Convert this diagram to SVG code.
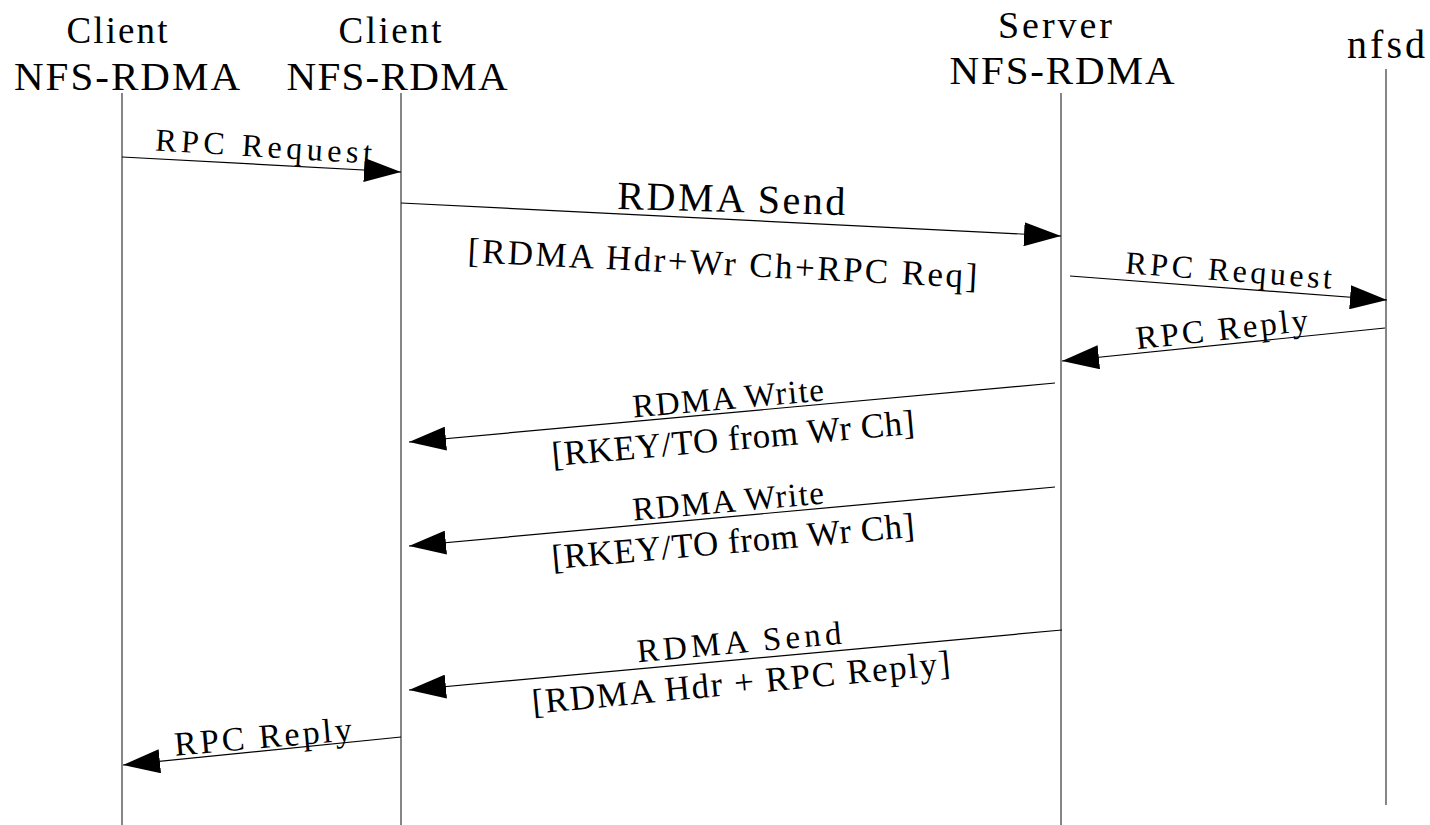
<svg xmlns="http://www.w3.org/2000/svg" width="1430" height="825" viewBox="0 0 1430 825" font-family="'Liberation Serif', 'Times New Roman', serif">
<defs>
<style>
.hd{font-size:41px;text-anchor:middle;fill:#000}
.lb{font-size:33px;text-anchor:middle;fill:#000}
.lb2{font-size:35px;text-anchor:middle;fill:#000}
.life{stroke:#444;stroke-width:1.3;fill:none}
.msg{stroke:#000;stroke-width:1.2;fill:none;marker-end:url(#ah)}
</style>
<marker id="ah" markerUnits="userSpaceOnUse" markerWidth="38" markerHeight="24" refX="37" refY="12" orient="auto">
<path d="M0,0 L37,12 L0,24 z" fill="#000"/>
</marker>
</defs>
<rect width="1430" height="825" fill="#fff"/>
<g id="client1">
<text class="hd" x="117" y="43" style="font-size:37px" textLength="101" lengthAdjust="spacing">Client</text>
<text class="hd" x="127" y="90" textLength="226" lengthAdjust="spacing">NFS-RDMA</text>
<line class="life" x1="122" y1="93" x2="122" y2="825"/>
</g>
<g id="client2">
<text class="hd" x="390" y="43" style="font-size:37px" textLength="103" lengthAdjust="spacing">Client</text>
<text class="hd" x="397" y="90" textLength="221" lengthAdjust="spacing">NFS-RDMA</text>
<line class="life" x1="401" y1="93" x2="401" y2="825"/>
</g>
<g id="server">
<text class="hd" x="1055" y="38" style="font-size:38px" textLength="114" lengthAdjust="spacing">Server</text>
<text class="hd" x="1062" y="84" textLength="225" lengthAdjust="spacing">NFS-RDMA</text>
<line class="life" x1="1061" y1="93" x2="1061" y2="825"/>
</g>
<g id="nfsd">
<text class="hd" x="1386" y="58" style="font-size:40px" textLength="78" lengthAdjust="spacing">nfsd</text>
<line class="life" x1="1386" y1="69" x2="1386" y2="805"/>
</g>
<g id="connectors">
<line class="msg" x1="122" y1="157" x2="401" y2="172"/>
<line class="msg" x1="401" y1="203" x2="1061" y2="236"/>
<line class="msg" x1="1070" y1="276" x2="1387" y2="300"/>
<line class="msg" x1="1385" y1="328" x2="1062" y2="361"/>
<line class="msg" x1="1055" y1="383" x2="409" y2="442"/>
<line class="msg" x1="1055" y1="487" x2="409" y2="546"/>
<line class="msg" x1="1062" y1="630" x2="409" y2="690"/>
<line class="msg" x1="401" y1="737" x2="123" y2="765"/>
</g>
<g id="labels">
<text class="lb" x="263" y="157" style="font-size:32px" textLength="217" lengthAdjust="spacing" transform="rotate(3.5 263 157)">RPC Request</text>
<text class="lb" x="731" y="212" style="font-size:40px" textLength="228" lengthAdjust="spacing" transform="rotate(1.5 731 212)">RDMA Send</text>
<text class="lb2" x="722" y="275" textLength="510" lengthAdjust="spacing" transform="rotate(2.9 722 275)">[RDMA Hdr+Wr Ch+RPC Req]</text>
<text class="lb" x="1228" y="281" style="font-size:32px" textLength="207" lengthAdjust="spacing" transform="rotate(4.3 1228 281)">RPC Request</text>
<text class="lb" x="1223" y="340" textLength="173" lengthAdjust="spacing" transform="rotate(-6.2 1223 340)">RPC Reply</text>
<text class="lb" x="729" y="409" textLength="192" lengthAdjust="spacing" transform="rotate(-5.1 729 409)">RDMA Write</text>
<text class="lb2" x="734" y="450" textLength="364" lengthAdjust="spacing" transform="rotate(-5.1 734 450)">[RKEY/TO from Wr Ch]</text>
<text class="lb" x="729" y="512" textLength="192" lengthAdjust="spacing" transform="rotate(-5.1 729 512)">RDMA Write</text>
<text class="lb2" x="734" y="553" textLength="364" lengthAdjust="spacing" transform="rotate(-5.1 734 553)">[RKEY/TO from Wr Ch]</text>
<text class="lb" x="740" y="653" textLength="205" lengthAdjust="spacing" transform="rotate(-5.2 740 653)">RDMA Send</text>
<text class="lb2" x="742" y="694" textLength="420" lengthAdjust="spacing" transform="rotate(-5.4 742 694)">[RDMA Hdr + RPC Reply]</text>
<text class="lb" x="264" y="748" style="font-size:34px" textLength="178" lengthAdjust="spacing" transform="rotate(-5 264 748)">RPC Reply</text>
</g>
</svg>
